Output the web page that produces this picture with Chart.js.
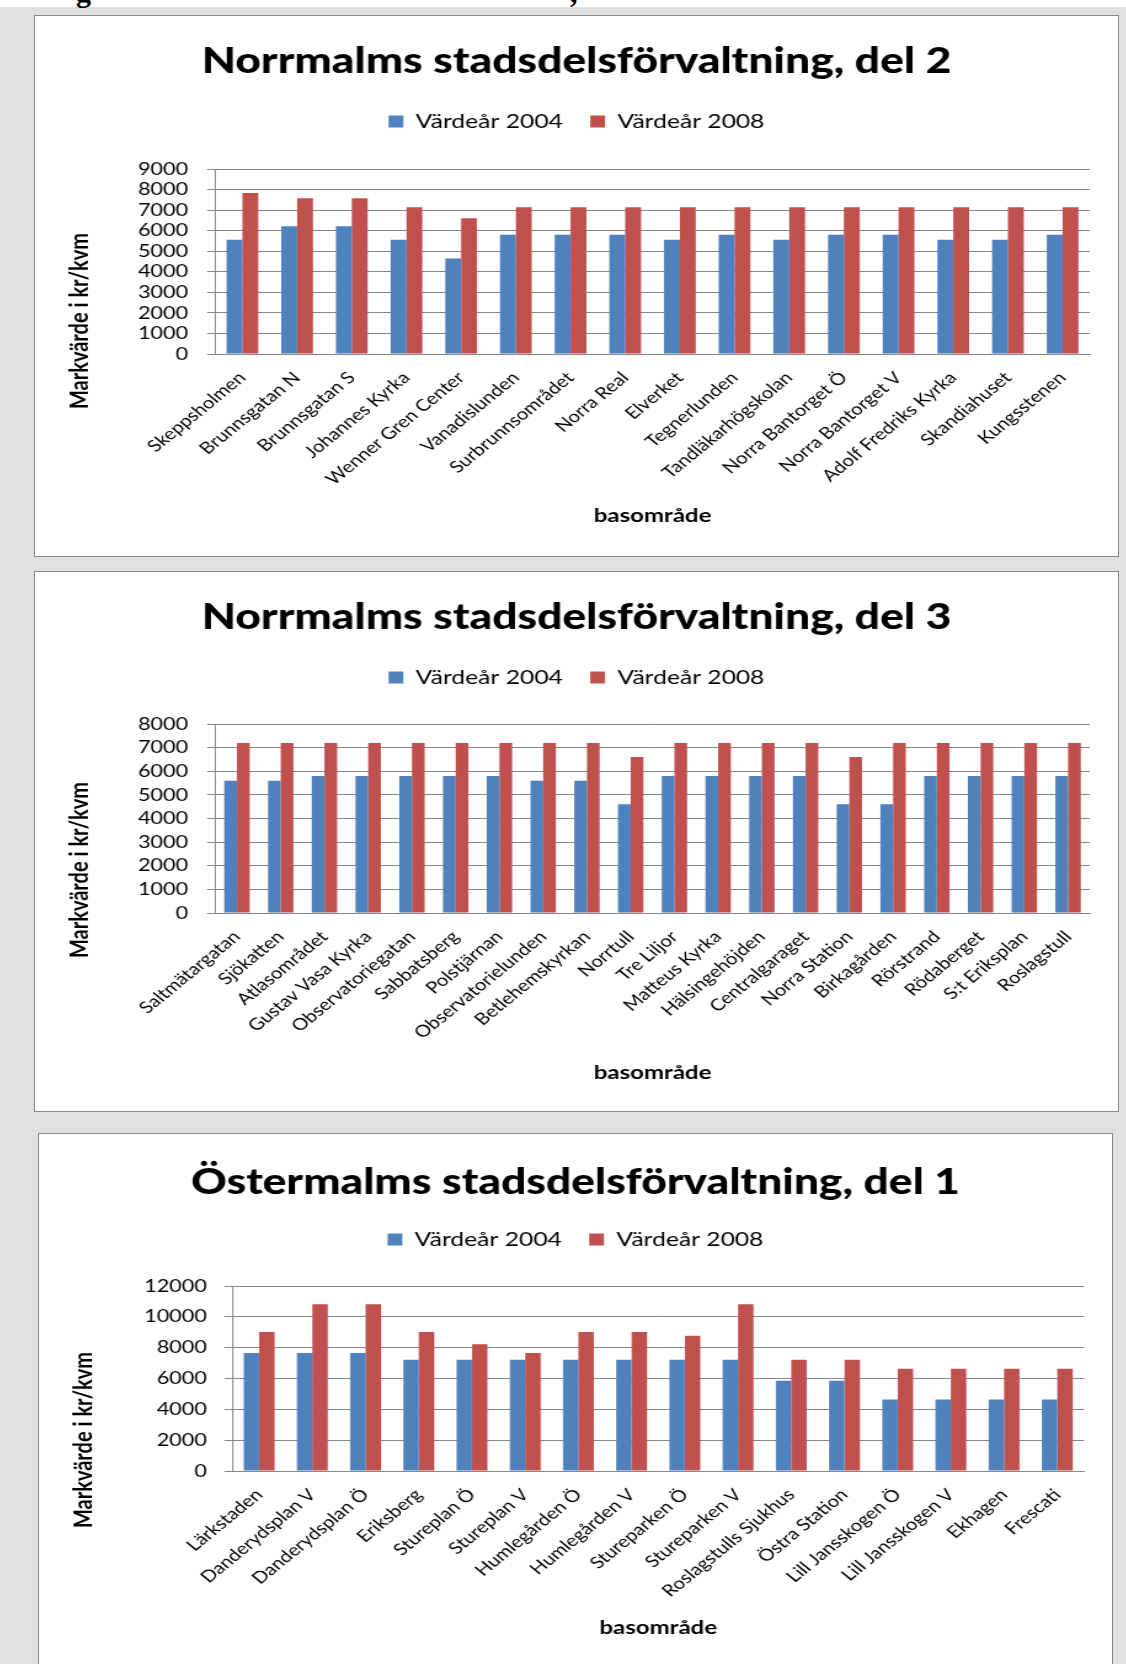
<!DOCTYPE html>
<html lang="sv">
<head>
<meta charset="utf-8">
<title>Markvärde per basområde</title>
<script src="https://cdn.jsdelivr.net/npm/chart.js@4.4.1/dist/chart.umd.min.js"></script>
<style>
  html, body { margin: 0; padding: 0; }
  body {
    width: 1126px; height: 1664px; position: relative; overflow: hidden;
    background: #e0e0e0; font-family: Lato, sans-serif;
  }
  .strip { position: absolute; left: 0; top: 0; width: 1126px; height: 7px; background: #fff; }
  .caption { position: absolute; left: 0; top: 0; width: 1126px; height: 16px; overflow: hidden; }
  .caption span {
    position: absolute; top: -23px;
    font: bold 30px/30px "Liberation Serif", serif; color: #000;
  }
  .panel { position: absolute; background: #fff; border: 1px solid #878787; overflow: hidden; }
  .panel canvas { display: block; transform-origin: 0 0; }
</style>
</head>
<body>
<div class="strip"></div>
<div class="caption"><span style="left:76px">g</span><span style="left:570px">,</span></div>

<div class="panel" style="left:34px; top:15px; width:1083px; height:540px;">
  <canvas id="c1" width="880" height="540" style="transform:scaleX(1.2307)"></canvas>
</div>
<div class="panel" style="left:34px; top:571px; width:1083px; height:539px;">
  <canvas id="c2" width="880" height="539" style="transform:scaleX(1.2307)"></canvas>
</div>
<div class="panel" style="left:38px; top:1133px; width:1073px; height:531px; border-bottom:none;">
  <canvas id="c3" width="872" height="530" style="transform:scaleX(1.2305)"></canvas>
</div>

<script>
// Series shared by all three charts
const seriesNames = ['Värdeår 2004', 'Värdeår 2008'];
const seriesColors = ['#4F81BD', '#C0504D'];
const axisTitleY = 'Markvärde i kr/kvm';
const axisTitleX = 'basområde';

// Norrmalms stadsdelsförvaltning, del 2
const title1 = 'Norrmalms stadsdelsförvaltning, del 2';
const cats1 = ['Skeppsholmen', 'Brunnsgatan N', 'Brunnsgatan S', 'Johannes Kyrka', 'Wenner Gren Center',
  'Vanadislunden', 'Surbrunnsområdet', 'Norra Real', 'Elverket', 'Tegnerlunden', 'Tandläkarhögskolan',
  'Norra Bantorget Ö', 'Norra Bantorget V', 'Adolf Fredriks Kyrka', 'Skandiahuset', 'Kungsstenen'];
const v2004_1 = [5560, 6220, 6220, 5560, 4650, 5800, 5800, 5800, 5560, 5800, 5560, 5800, 5800, 5560, 5560, 5800];
const v2008_1 = [7830, 7580, 7580, 7140, 6610, 7140, 7140, 7140, 7140, 7140, 7140, 7140, 7140, 7140, 7140, 7140];
const yMax1 = 9000, yStep1 = 1000;

// Norrmalms stadsdelsförvaltning, del 3
const title2 = 'Norrmalms stadsdelsförvaltning, del 3';
const cats2 = ['Saltmätargatan', 'Sjökatten', 'Atlasområdet', 'Gustav Vasa Kyrka', 'Observatoriegatan',
  'Sabbatsberg', 'Polstjärnan', 'Observatorielunden', 'Betlehemskyrkan', 'Norrtull', 'Tre Liljor',
  'Matteus Kyrka', 'Hälsingehöjden', 'Centralgaraget', 'Norra Station', 'Birkagården', 'Rörstrand',
  'Rödaberget', 'S:t Eriksplan', 'Roslagstull'];
const v2004_2 = [5600, 5600, 5800, 5800, 5800, 5800, 5800, 5600, 5600, 4600, 5800, 5800, 5800, 5800, 4600, 4600, 5800, 5800, 5800, 5800];
const v2008_2 = [7200, 7200, 7200, 7200, 7200, 7200, 7200, 7200, 7200, 6600, 7200, 7200, 7200, 7200, 6600, 7200, 7200, 7200, 7200, 7200];
const yMax2 = 8000, yStep2 = 1000;

// Östermalms stadsdelsförvaltning, del 1
const title3 = 'Östermalms stadsdelsförvaltning, del 1';
const cats3 = ['Lärkstaden', 'Danderydsplan V', 'Danderydsplan Ö', 'Eriksberg', 'Stureplan Ö', 'Stureplan V',
  'Humlegården Ö', 'Humlegården V', 'Stureparken Ö', 'Stureparken V', 'Roslagstulls Sjukhus',
  'Östra Station', 'Lill Jansskogen Ö', 'Lill Jansskogen V', 'Ekhagen', 'Frescati'];
const v2004_3 = [7650, 7650, 7650, 7220, 7220, 7220, 7220, 7220, 7220, 7220, 5860, 5860, 4630, 4630, 4630, 4630];
const v2008_3 = [9020, 10810, 10810, 9020, 8220, 7650, 9020, 9020, 8780, 10810, 7220, 7220, 6640, 6640, 6640, 6640];
const yMax3 = 12000, yStep3 = 2000;

const FONT = 'Lato';
const GRID = '#878787';

// Fixes the legend block height so the plot starts at the same depth in every chart
const legendSpace = {
  id: 'legendSpace',
  beforeInit(chart, args, opts) {
    const legend = chart.legend;
    if (!legend) return;
    const fit = legend.fit;
    legend.fit = function () {
      fit.call(this);
      if (opts.height) this.height = opts.height;
    };
  }
};

// Rotated value-axis title, centred on the plot plus its category labels
const sideTitle = {
  id: 'sideTitle',
  afterDraw(chart, args, opts) {
    const ctx = chart.ctx;
    ctx.save();
    ctx.translate(opts.x, opts.y);
    ctx.rotate(-Math.PI / 2);
    ctx.font = 'bold 20px ' + FONT;
    ctx.fillStyle = '#000';
    ctx.textAlign = 'center';
    ctx.textBaseline = 'middle';
    ctx.fillText(opts.text, 0, 0);
    ctx.restore();
  }
};

function build(id, title, labels, a, b, yMax, yStep, lay) {
  return new Chart(document.getElementById(id), {
    type: 'bar',
    data: {
      labels: labels,
      datasets: [
        { label: seriesNames[0], data: a, backgroundColor: seriesColors[0], borderWidth: 0 },
        { label: seriesNames[1], data: b, backgroundColor: seriesColors[1], borderWidth: 0 }
      ]
    },
    options: {
      responsive: false,
      animation: false,
      devicePixelRatio: 1,
      layout: { padding: { left: lay.side, right: lay.side, top: 0, bottom: 0 } },
      datasets: { bar: { categoryPercentage: 0.58, barPercentage: 1 } },
      plugins: {
        title: {
          display: true, text: title, color: '#000',
          font: { family: FONT, size: 36, weight: 900 },
          padding: { top: lay.titleTop, bottom: lay.titleBottom }
        },
        legend: {
          display: true, position: 'top',
          labels: { color: '#000', font: { family: FONT, size: 20 }, boxWidth: 12, boxHeight: 12, padding: 22.3 }
        },
        legendSpace: { height: lay.legendH },
        sideTitle: { text: axisTitleY, x: 36.8, y: lay.yTitleY },
        tooltip: { enabled: false }
      },
      scales: {
        x: {
          grid: { display: false },
          border: { display: true, color: GRID },
          ticks: {
            color: '#000', font: { family: FONT, size: 16.5 },
            minRotation: 45, maxRotation: 45, autoSkip: false, padding: 6
          },
          title: {
            display: true, text: axisTitleX, color: '#000',
            font: { family: FONT, size: 19.5, weight: 'bold' },
            padding: { top: 0, bottom: lay.xTitlePad }
          },
          afterFit: s => { s.height = lay.xH; }
        },
        y: {
          min: 0, max: yMax,
          ticks: {
            stepSize: yStep, autoSkip: false, color: '#000', font: { family: FONT, size: 17.5 },
            padding: lay.tickPad, callback: v => String(v)
          },
          grid: { color: GRID, lineWidth: 1, tickLength: 6.5 },
          border: { display: true, color: GRID },
          afterFit: s => { s.width = lay.yW; }
        }
      }
    },
    plugins: [legendSpace, sideTitle]
  });
}

build('c1', title1, cats1, v2004_1, v2008_1, yMax1, yStep1,
  { side: 22.8, titleTop: 24, titleBottom: 6, legendH: 79.8, yW: 123.5, xH: 202, xTitlePad: 28.3, yTitleY: 305, tickPad: 15.5 });
build('c2', title2, cats2, v2004_2, v2008_2, yMax2, yStep2,
  { side: 22.8, titleTop: 24, titleBottom: 6, legendH: 78.8, yW: 123.5, xH: 198, xTitlePad: 26.3, yTitleY: 298, tickPad: 15.5 });
build('c3', title3, cats3, v2004_3, v2008_3, yMax3, yStep3,
  { side: 22.8, titleTop: 27, titleBottom: 3, legendH: 78.8, yW: 134.5, xH: 193, xTitlePad: 24.3, yTitleY: 306, tickPad: 14.5 });
</script>
</body>
</html>
